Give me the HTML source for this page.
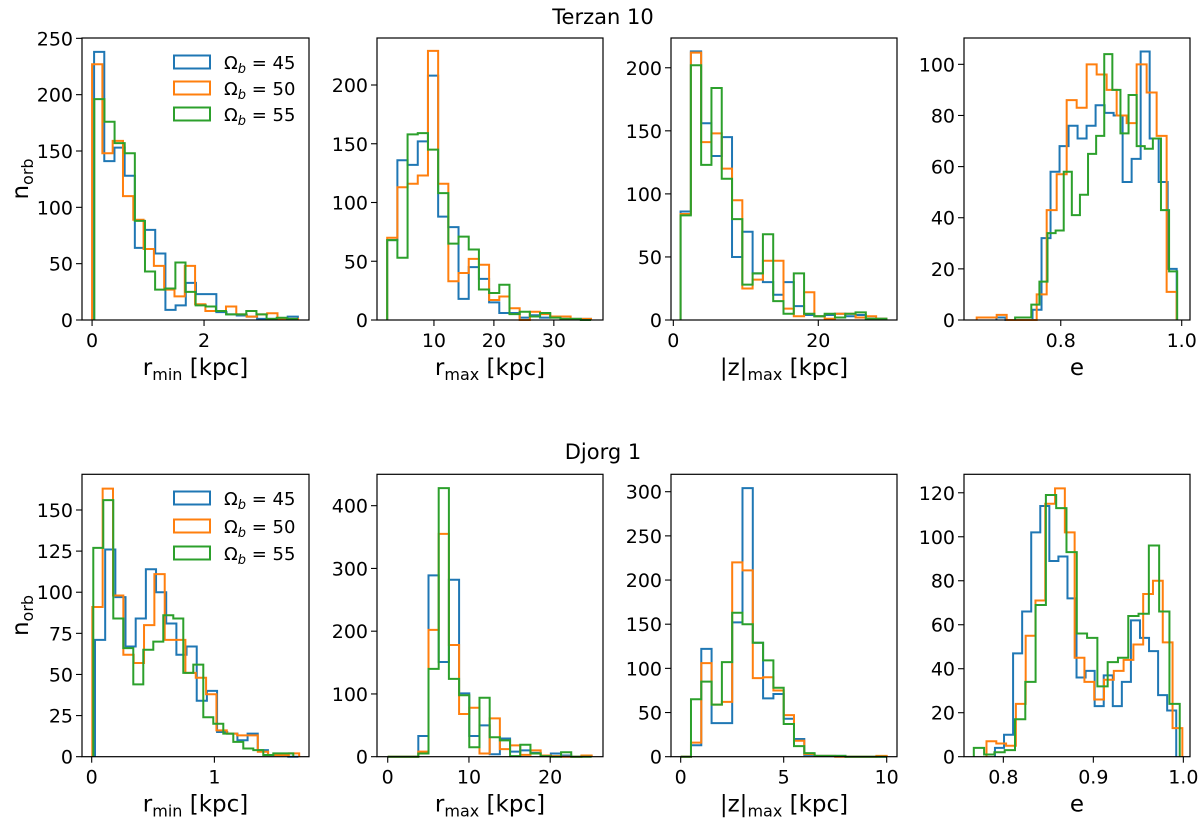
<!DOCTYPE html>
<html><head><meta charset="utf-8">
<style>
html,body{margin:0;padding:0;background:#fff;}
svg{display:block;font-family:"DejaVu Sans","Liberation Sans",sans-serif;}
</style></head>
<body>
<svg id="fig" width="1200" height="824" viewBox="0 0 1200 824" xmlns="http://www.w3.org/2000/svg">
<text x="603" y="24" font-size="21" text-anchor="middle">Terzan 10</text>
<text x="603" y="459" font-size="21" text-anchor="middle">Djorg 1</text>
</svg>
<script>
// ---- Data: bin starts, bin widths, counts (blue=45, orange=50, green=55) ----
const seriesNames = ["Ω_b = 45","Ω_b = 50","Ω_b = 55"];
// Terzan 10 rmin
const t1Start = [0.036, 0.0, 0.04];
const t1Width = [0.182, 0.184, 0.181];
const t1Blue = [238,141,153,128,64,80,59,9,13,33,23,23,7,5,4,3,1,1,1,3];
const t1Orange = [227,148,159,110,89,63,48,27,21,48,14,8,8,12,5,3,5,6,1,1];
const t1Green = [196,176,157,148,88,43,27,28,51,25,13,12,8,5,5,8,5,1,2,1];
// Terzan 10 rmax
const t2Start = [2.2, 2.2, 2.2];
const t2Width = [1.7, 1.7, 1.7];
const t2Blue = [68,136,132,152,208,88,79,18,45,35,15,6,6,2,4,2,3,1,1,1];
const t2Orange = [70,113,116,123,229,116,33,40,52,47,17,20,10,0,7,5,3,3,1,1];
const t2Green = [68,53,158,159,145,108,65,71,60,26,23,30,5,7,3,6,2,1,1,0];
// Terzan 10 zmax
const t3Start = [1.0, 1.0, 1.0];
const t3Width = [1.42, 1.42, 1.42];
const t3Blue = [86,213,156,130,145,50,70,37,30,20,30,11,4,3,4,5,3,4,1,1];
const t3Orange = [84,212,141,148,120,95,25,32,47,47,9,3,22,3,1,5,5,2,3,1];
const t3Green = [83,202,123,184,112,80,28,37,68,15,5,37,5,3,5,2,5,6,1,1];
// Terzan 10 e
const t4Start = [0.6937, 0.661, 0.7245];
const t4Width = [0.0149, 0.01653, 0.0134];
const t4Blue = [1,0,0,0,4,32,58,68,76,71,76,84,81,80,54,63,105,71,54,20];
const t4Orange = [1,1,2,0,0,0,10,43,57,86,83,100,96,90,80,77,100,89,72,11];
const t4Green = [1,1,6,15,34,35,58,41,49,65,72,104,90,73,88,68,67,71,43,19];
// Djorg 1 rmin
const d1Start = [0.027, 0.005, 0.013];
const d1Width = [0.0829, 0.0843, 0.0815];
const d1Blue = [71,126,97,67,84,114,100,81,62,67,34,40,15,14,10,14,4,1,1,0];
const d1Orange = [91,163,98,62,57,80,111,71,71,51,48,38,16,14,13,13,3,1,1,2];
const d1Green = [127,156,84,66,44,65,70,86,84,51,56,24,20,14,9,5,4,1,2,2];
// Djorg 1 rmax
const d2Start = [0.0, 0.0, 0.0];
const d2Width = [1.255, 1.255, 1.255];
const d2Blue = [0,0,0,33,289,151,282,101,33,50,4,29,8,10,6,2,5,2,0,1];
const d2Orange = [0,0,0,8,202,355,178,68,78,5,61,12,18,3,10,2,1,0,0,2];
const d2Green = [0,0,0,5,140,428,124,98,15,94,31,26,1,19,5,1,0,7,0,0];
// Djorg 1 zmax
const d3Start = [0, 0, 0];
const d3Width = [0.5, 0.5, 0.5];
const d3Blue = [0,13,122,38,38,152,304,129,66,71,43,20,2,1,1,1,0,0,0,0];
const d3Orange = [0,16,106,59,62,220,211,89,90,75,47,18,3,1,1,0,0,0,0,1];
const d3Green = [0,65,85,59,107,163,150,129,109,78,37,12,4,1,1,1,0,0,0,0];
// Djorg 1 e
const d4Start = [0.7907, 0.7813, 0.7672];
const d4Width = [0.01007, 0.01088, 0.01144];
const d4Blue = [4,10,47,66,102,114,89,91,72,36,39,23,37,23,34,62,54,48,28,21];
const d4Orange = [7,6,5,24,55,71,115,122,102,45,34,26,35,39,44,51,74,80,52,13];
const d4Green = [4,1,2,3,17,34,69,119,113,93,56,54,32,43,45,64,65,96,66,24];
// Tick labels
const t1XTicks = [0,2], t2XTicks = [10,20,30], t3XTicks = [0,20], t4XTicks = [0.8,1.0];
const d1XTicks = [0,1], d2XTicks = [0,10,20], d3XTicks = [0,5,10], d4XTicks = [0.8,0.9,1.0];
const t1YTicks = [0,50,100,150,200,250], t2YTicks = [0,50,100,150,200], t3YTicks = [0,50,100,150,200], t4YTicks = [0,20,40,60,80,100];
const d1YTicks = [0,25,50,75,100,125,150], d2YTicks = [0,100,200,300,400], d3YTicks = [0,50,100,150,200,250,300], d4YTicks = [0,20,40,60,80,100,120];

const colors = ["#1f77b4","#ff7f0e","#2ca02c"];
const NS = "http://www.w3.org/2000/svg";
const svg = document.getElementById("fig");
function mk(tag, attrs, parent){ const e=document.createElementNS(NS,tag); for(const k in attrs) e.setAttribute(k,attrs[k]); (parent||svg).appendChild(e); return e; }

const cols = [[82,309],[377,603],[671,897],[964,1190]];
const rows = [[38,320],[474.3,756.7]];

const panels = [
 {name:"terzan-rmin",r:0,c:0,x:[-0.18,3.875],y:[0,250.3],st:t1Start,w:t1Width,d:[t1Blue,t1Orange,t1Green],xt:t1XTicks,yt:t1YTicks,xl:["r","min"," [kpc]"],legend:true,ylabel:true},
 {name:"terzan-rmax",r:0,c:1,x:[0.5,38.2],y:[0,240],st:t2Start,w:t2Width,d:[t2Blue,t2Orange,t2Green],xt:t2XTicks,yt:t2YTicks,xl:["r","max"," [kpc]"]},
 {name:"terzan-zmax",r:0,c:2,x:[-0.32,30.86],y:[0,223.6],st:t3Start,w:t3Width,d:[t3Blue,t3Orange,t3Green],xt:t3XTicks,yt:t3YTicks,xl:["|z|","max"," [kpc]"]},
 {name:"terzan-e",r:0,c:3,x:[0.640,1.0137],y:[0,110.3],st:t4Start,w:t4Width,d:[t4Blue,t4Orange,t4Green],xt:t4XTicks,yt:t4YTicks,xl:["e","",""],fmt:1},
 {name:"djorg-rmin",r:1,c:0,x:[-0.079,1.771],y:[0,171.7],st:d1Start,w:d1Width,d:[d1Blue,d1Orange,d1Green],xt:d1XTicks,yt:d1YTicks,xl:["r","min"," [kpc]"],legend:true,ylabel:true},
 {name:"djorg-rmax",r:1,c:1,x:[-1.32,26.5],y:[0,450],st:d2Start,w:d2Width,d:[d2Blue,d2Orange,d2Green],xt:d2XTicks,yt:d2YTicks,xl:["r","max"," [kpc]"]},
 {name:"djorg-zmax",r:1,c:2,x:[-0.47,10.5],y:[0,319.7],st:d3Start,w:d3Width,d:[d3Blue,d3Orange,d3Green],xt:d3XTicks,yt:d3YTicks,xl:["|z|","max"," [kpc]"]},
 {name:"djorg-e",r:1,c:3,x:[0.7563,1.0074],y:[0,128.4],st:d4Start,w:d4Width,d:[d4Blue,d4Orange,d4Green],xt:d4XTicks,yt:d4YTicks,xl:["e","",""],fmt:1}
];

panels.forEach(p=>{
  const [L,R]=cols[p.c], [T,B]=rows[p.r];
  const sx=v=>L+(v-p.x[0])/(p.x[1]-p.x[0])*(R-L);
  const sy=v=>B-(v-p.y[0])/(p.y[1]-p.y[0])*(B-T);
  const g=mk("g",{});
  
  
  p.d.forEach((vals,si)=>{
    let x0=p.st[si], w=p.w[si];
    let d="M"+sx(x0)+","+sy(0);
    vals.forEach((v,i)=>{ d+=" L"+sx(x0+i*w)+","+sy(v)+" L"+sx(x0+(i+1)*w)+","+sy(v); });
    d+=" L"+sx(x0+vals.length*w)+","+sy(0);
    const path=mk("path",{d:d,fill:"none",stroke:colors[si],"stroke-width":2,"stroke-linejoin":"miter"},g);
    
    
  });
  const fr=mk("rect",{x:L,y:T,width:R-L,height:B-T,fill:"none",stroke:"#000","stroke-width":1.2},g);
  
  
  p.xt.forEach(t=>{
    const x=sx(t);
    mk("line",{x1:x,y1:B,x2:x,y2:B+6,stroke:"#000","stroke-width":1.1},g);
    const tx=mk("text",{x:x,y:B+27,"font-size":19,"text-anchor":"middle"},g);
    tx.textContent=p.fmt?t.toFixed(1):String(t);
    
    
  });
  p.yt.forEach(t=>{
    const y=sy(t);
    mk("line",{x1:L-6,y1:y,x2:L,y2:y,stroke:"#000","stroke-width":1.1},g);
    const tx=mk("text",{x:L-9,y:y+7,"font-size":19,"text-anchor":"end"},g);
    tx.textContent=String(t);
    
    
  });
  const xl=mk("text",{x:(L+R)/2,y:B+55,"font-size":23,"text-anchor":"middle"},g);
  
  
  const a=mk("tspan",{},xl); a.textContent=p.xl[0];
  if(p.xl[1]){ const b=mk("tspan",{"font-size":16,dy:5},xl); b.textContent=p.xl[1];
    const c=mk("tspan",{dy:-5},xl); c.textContent=p.xl[2]; }
  if(p.ylabel){
    const cy=(T+B)/2;
    const yl=mk("text",{x:0,y:0,"font-size":23,"text-anchor":"middle",transform:"translate(28,"+cy+") rotate(-90)"},g);
    
    
    const a2=mk("tspan",{},yl); a2.textContent="n";
    const b2=mk("tspan",{"font-size":16,dy:5},yl); b2.textContent="orb";
  }
  if(p.legend){
    const lg=mk("g",{},g);
    
    
    const ys = p.r===0 ? [62,88,114] : [498,526,553];
    seriesNames.forEach((n,i)=>{
      const e=mk("g",{},lg);
      
      
      mk("rect",{x:174,y:ys[i]-6.5,width:36,height:13,fill:"none",stroke:colors[i],"stroke-width":2},e);
      const t=mk("text",{x:224,y:ys[i]+7,"font-size":18},e);
      const t1=mk("tspan",{},t); t1.textContent="Ω";
      const t2=mk("tspan",{"font-size":13,dy:4,"font-style":"italic"},t); t2.textContent="b";
      const t3=mk("tspan",{dy:-4},t); t3.textContent=" = "+["45","50","55"][i];
    });
  }
});
</script>
</body></html>
